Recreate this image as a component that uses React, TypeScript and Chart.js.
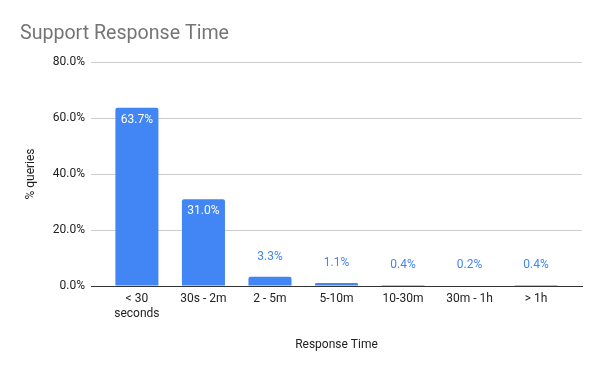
import React, { useEffect, useRef } from "react";
import { Chart, registerables } from "chart.js";

Chart.register(...registerables);

const categories: (string | string[])[] = [["< 30", "seconds"], "30s - 2m", "2 - 5m", "5-10m", "10-30m", "30m - 1h", "> 1h"];
const values: number[] = [63.7, 31.0, 3.3, 1.1, 0.4, 0.2, 0.4];
const yTicks: number[] = [0, 20, 40, 60, 80];
const chartTitle = "Support Response Time";
const xTitle = "Response Time";
const yTitle = "% queries";

const FONT = "Roboto, 'Liberation Sans', Arial, sans-serif";
const BLUE = "#4285F4";
const X_MIN = -0.69;
const X_MAX = categories.length - 1 + 0.69;

const labelPlugin = {
  id: "barLabels",
  afterDatasetsDraw(chart: any) {
    const ctx = chart.ctx;
    const meta = chart.getDatasetMeta(0);
    ctx.save();
    ctx.font = `12px ${FONT}`;
    ctx.textAlign = "center";
    ctx.textBaseline = "middle";
    meta.data.forEach((bar: any, i: number) => {
      const v = values[i];
      const txt = v.toFixed(1) + "%";
      if (v > 10) {
        ctx.fillStyle = "#ffffff";
        ctx.fillText(txt, bar.x, bar.y + 12);
      } else {
        ctx.fillStyle = BLUE;
        ctx.fillText(txt, bar.x, bar.y - 20);
      }
    });
    ctx.restore();
  },
};

const titlePlugin = {
  id: "leftTitle",
  afterDraw(chart: any) {
    const ctx = chart.ctx;
    ctx.save();
    ctx.font = `19.6px ${FONT}`;
    ctx.fillStyle = "#757575";
    ctx.textAlign = "left";
    ctx.textBaseline = "alphabetic";
    ctx.fillText(chartTitle, 20, 38.5);
    ctx.restore();
  },
};

export default function App() {
  const ref = useRef<HTMLCanvasElement | null>(null);
  useEffect(() => {
    document.body.style.margin = "0";
    if (!ref.current) return;
    const chart = new Chart(ref.current, {
      type: "bar",
      data: {
        datasets: [
          {
            data: values.map((v, i) => ({ x: i, y: v })),
            backgroundColor: BLUE,
            borderRadius: 2,
            barPercentage: 0.647,
            categoryPercentage: 1,
          },
        ],
      },
      options: {
        animation: false,
        responsive: false,
        maintainAspectRatio: false,
        layout: { padding: { top: 62, right: 18, bottom: 0, left: 0 } },
        plugins: {
          legend: { display: false },
          tooltip: { enabled: false },
          title: { display: false },
        },
        scales: {
          x: {
            type: "linear",
            offset: false,
            bounds: "data",
            min: X_MIN,
            max: X_MAX,
            afterBuildTicks(scale: any) {
              scale.ticks = categories.map((_, i) => ({ value: i }));
              scale.min = X_MIN;
              scale.max = X_MAX;
            },
            grid: { display: false, drawTicks: false, offset: false },
            border: { display: true, color: "#333333", width: 1 },
            ticks: {
              color: "#222222",
              font: { family: FONT, size: 12 },
              padding: 6,
              maxRotation: 0,
              autoSkip: false,
              callback: (v: any) => categories[Math.round(Number(v))] as any,
            },
            title: {
              display: true,
              text: xTitle,
              color: "#222222",
              font: { family: FONT, size: 12 },
              padding: { top: 0, bottom: 19 },
            },
            afterFit(scale: any) {
              scale.height = 85;
            },
          } as any,
          y: {
            min: 0,
            max: 80,
            afterBuildTicks(scale: any) {
              scale.ticks = yTicks.map((v) => ({ value: v }));
            },
            grid: {
              color: "#cccccc",
              drawTicks: false,
            },
            border: { display: false },
            ticks: {
              color: "#222222",
              font: { family: FONT, size: 12 },
              padding: 6,
              callback: (v: any) => Number(v).toFixed(1) + "%",
            },
            title: {
              display: true,
              text: yTitle,
              color: "#222222",
              font: { family: FONT, size: 12 },
              padding: { top: 24, bottom: 0 },
            },
            afterFit(scale: any) {
              scale.width = 91;
            },
          },
        },
      },
      plugins: [labelPlugin, titlePlugin],
    });
    return () => chart.destroy();
  }, []);
  return (
    <div style={{ width: 600, height: 371, position: "relative", background: "#fff" }}>
      <canvas ref={ref} width={600} height={371} style={{ display: "block" }} />
    </div>
  );
}
